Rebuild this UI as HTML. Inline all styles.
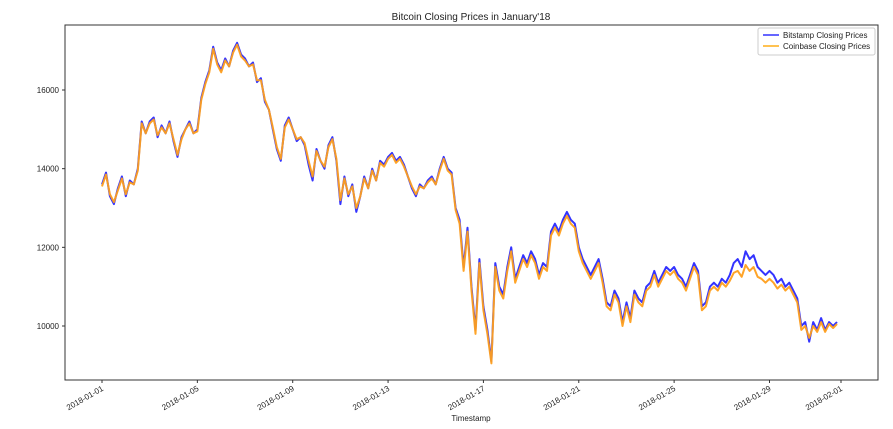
<!DOCTYPE html>
<html><head><meta charset="utf-8"><style>
body{margin:0;background:#fff;width:893px;height:424px;overflow:hidden;font-family:"Liberation Sans",sans-serif}
</style></head><body>
<svg id="chart" width="893" height="424" xmlns="http://www.w3.org/2000/svg" font-family="Liberation Sans, sans-serif">
<text x="471" y="20" font-size="10" text-anchor="middle" fill="#222">Bitcoin Closing Prices in January'18</text>
<rect x="65" y="25" width="813" height="355" fill="#fff" stroke="#333" stroke-width="1"/>
<g id="yaxis"></g>
<g id="xaxis"></g>
<g id="series"></g>
<text x="471" y="421" font-size="8" text-anchor="middle" fill="#222">Timestamp</text>
<g>
<rect x="758" y="28" width="117" height="27" fill="#fff" stroke="#ccc" rx="2"/>
<line x1="763" y1="35" x2="779" y2="35" stroke="blue" stroke-width="1.6" opacity="0.75"/>
<text x="783" y="38" font-size="8" fill="#222">Bitstamp Closing Prices</text>
<line x1="763" y1="46" x2="779" y2="46" stroke="orange" stroke-width="1.6" opacity="0.85"/>
<text x="783" y="49" font-size="8" fill="#222">Coinbase Closing Prices</text>
</g>
</svg>
<script>
const yTicks=[10000,12000,14000,16000];
const xTickLabels=["2018-01-01","2018-01-05","2018-01-09","2018-01-13","2018-01-17","2018-01-21","2018-01-25","2018-01-29","2018-02-01"];
const xTickDays=[0,4,8,12,16,20,24,28,31];
const stepHours=4;
const bitstamp=[13600,13900,13300,13100,13500,13800,13300,13700,13600,14000,15200,14900,15200,15300,14800,15100,14900,15200,14700,14300,14800,15000,15200,14900,15000,15800,
16200,16500,17100,16700,16500,16800,16600,17000,17200,16900,16800,16600,16700,16200,16300,15700,15500,15000,14500,14200,15100,15300,15000,14700,14800,14600,14100,13700,14500,14200,14000,14600,14800,14200,13100,13800,13300,13600,12900,13300,13800,13500,14000,13700,14200,14100,14300,14400,14200,14300,14100,13800,13500,13300,13600,13500,13700,13800,13600,14000,14300,14000,13900,13000,
12700,11500,12500,11000,9900,11700,10500,9900,9100,11600,11000,10800,11500,12000,11200,11500,11800,11600,11900,11700,11300,11600,11500,12400,12600,12400,12700,12900,12700,12600,12000,11700,11500,11300,11500,11700,11200,10600,10500,10900,10700,10100,10600,10200,10900,10700,10600,11000,11100,11400,11100,11300,11500,11400,11500,11300,11200,11000,11300,11600,11400,10500,10600,11000,11100,11000,11200,11100,11300,11600,11700,11500,11900,11700,11800,11500,11400,11300,11400,11300,11100,11200,11000,11100,10900,10700,10000,10100,9600,10100,9900,10200,9900,10100,10000,10100];
const coinbase=[13550,13850,13350,13150,13450,13750,13350,13650,13600,13950,15150,14900,15150,15250,14850,15050,14900,15150,14750,14350,14750,15000,15150,14900,14950,15750,
16150,16450,17050,16650,16450,16750,16600,16950,17150,16850,16750,16600,16650,16250,16250,15750,15500,15050,14550,14250,15050,15250,15000,14750,14800,14650,14200,13800,14450,14200,14050,14550,14750,14250,13200,13750,13350,13550,13000,13300,13750,13500,13950,13700,14150,14050,14250,14350,14150,14250,14050,13800,13550,13350,13550,13500,13650,13750,13600,13950,14250,13950,13850,12950,
12600,11400,12400,10900,9800,11600,10400,9800,9050,11500,10900,10700,11400,11900,11100,11400,11700,11500,11800,11600,11200,11500,11400,12300,12500,12300,12600,12800,12600,12500,11900,11600,11400,11200,11400,11600,11100,10500,10400,10800,10600,10000,10500,10100,10800,10600,10500,10900,11000,11300,11000,11200,11400,11300,11400,11200,11100,10900,11200,11500,11300,10400,10500,10900,11000,10900,11100,11000,11150,11350,11400,11250,11550,11400,11500,11250,11200,11100,11200,11100,10950,11050,10900,11000,10800,10600,9900,10000,9700,10000,9850,10100,9850,10050,9950,10050];
const NS="http://www.w3.org/2000/svg";
const L=65,R=878,T=25,B=380;
const xOf=d=>102+d*(841-102)/31;
const yOf=v=>326-(v-10000)*(326-90)/6000;
const ya=document.getElementById('yaxis');
yTicks.forEach(v=>{
 const t=document.createElementNS(NS,'line');
 
 
 t.setAttribute('x1',L-3);t.setAttribute('x2',L);t.setAttribute('y1',yOf(v));t.setAttribute('y2',yOf(v));t.setAttribute('stroke','#333');ya.appendChild(t);
 const s=document.createElementNS(NS,'text');
 
 
 s.setAttribute('x',L-6);s.setAttribute('y',yOf(v)+3);s.setAttribute('font-size','8');s.setAttribute('text-anchor','end');s.setAttribute('fill','#222');s.textContent=v;ya.appendChild(s);
});
const xa=document.getElementById('xaxis');
xTickDays.forEach((d,i)=>{
 const x=xOf(d);
 const t=document.createElementNS(NS,'line');
 
 
 t.setAttribute('x1',x);t.setAttribute('x2',x);t.setAttribute('y1',B);t.setAttribute('y2',B+3);t.setAttribute('stroke','#333');xa.appendChild(t);
 const s=document.createElementNS(NS,'text');
 
 
 s.setAttribute('x',x+2);s.setAttribute('y',B+10);s.setAttribute('font-size','8');s.setAttribute('text-anchor','end');s.setAttribute('fill','#222');
 s.setAttribute('transform','rotate(-30 '+(x+2)+' '+(B+10)+')');s.textContent=xTickLabels[i];xa.appendChild(s);
});
const sg=document.getElementById('series');
function draw(arr,color,name,op){
 const p=document.createElementNS(NS,'polyline');
 
 
 p.setAttribute('points',arr.map((v,i)=>xOf(i*stepHours/24).toFixed(1)+','+yOf(v).toFixed(1)).join(' '));
 p.setAttribute('fill','none');p.setAttribute('stroke',color);p.setAttribute('stroke-width','2');p.setAttribute('opacity',op);p.setAttribute('stroke-linejoin','round');
 sg.appendChild(p);
}
draw(bitstamp,'blue','bitstamp-line','0.8');
draw(coinbase,'#ff9f1c','coinbase-line','0.95');
</script>
</body></html>
